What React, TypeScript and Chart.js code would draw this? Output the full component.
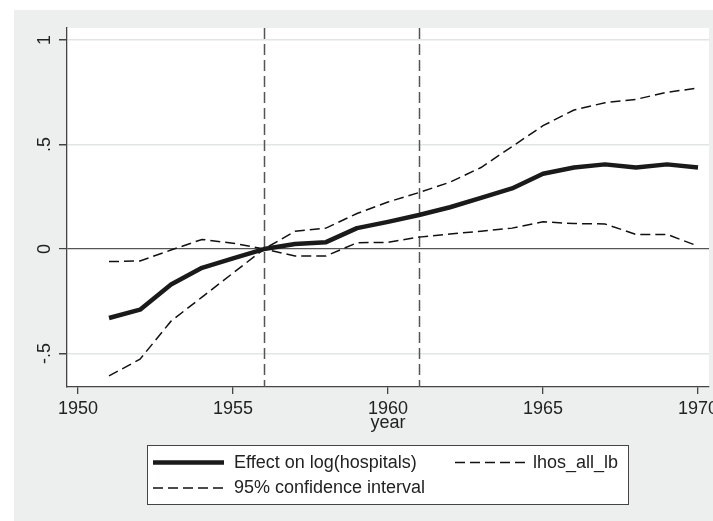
import React, { useEffect, useRef } from 'react';
import { Chart, registerables } from 'chart.js';

Chart.register(...registerables);

// ---- data ----
const years = [1951, 1952, 1953, 1954, 1955, 1956, 1957, 1958, 1959, 1960, 1961, 1962, 1963, 1964, 1965, 1966, 1967, 1968, 1969, 1970];
const effectOnLogHospitals = [-0.33, -0.29, -0.17, -0.09, -0.045, 0, 0.024, 0.033, 0.1, 0.13, 0.163, 0.2, 0.245, 0.29, 0.36, 0.39, 0.405, 0.39, 0.405, 0.39];
const lhosAllLb = [-0.607, -0.527, -0.345, -0.23, -0.115, 0, -0.033, -0.033, 0.03, 0.032, 0.057, 0.072, 0.085, 0.1, 0.13, 0.122, 0.12, 0.07, 0.07, 0.014];
const ciUpper = [-0.06, -0.057, -0.005, 0.046, 0.028, 0, 0.085, 0.1, 0.17, 0.225, 0.27, 0.32, 0.39, 0.49, 0.59, 0.665, 0.7, 0.716, 0.75, 0.77];
const xTickValues = [1950, 1955, 1960, 1965, 1970];
const yTickValues = [-0.5, 0, 0.5, 1];
const yTickLabels = ['-.5', '0', '.5', '1'];
const referenceYears = [1956, 1961];
const seriesLabels = ['Effect on log(hospitals)', 'lhos_all_lb', '95% confidence interval'];
const xAxisTitle = 'year';

const FONT_FAMILY = '"Liberation Sans", Arial, Helvetica, sans-serif';
const FONT_SIZE = 18;
const TEXT_COLOR = '#222';
const AXIS_COLOR = '#444';
const BG_GRAY = '#EDEFEF';
const GRID_GRAY = '#E2E5E5';

const backgroundPlugin = {
  id: 'stataBackground',
  beforeDraw(chart: any) {
    const { ctx, width, height, chartArea: a } = chart;
    ctx.save();
    ctx.fillStyle = '#ffffff';
    ctx.fillRect(0, 0, width, height);
    ctx.fillStyle = BG_GRAY;
    ctx.fillRect(14, 10, width - 14, height - 10);
    ctx.fillStyle = '#ffffff';
    ctx.fillRect(a.left, a.top, a.right - a.left, a.bottom - a.top);
    ctx.restore();
  },
};

const referenceLinePlugin = {
  id: 'referenceLines',
  beforeDatasetsDraw(chart: any) {
    const { ctx, chartArea: a } = chart;
    const xs = chart.scales.x;
    ctx.save();
    ctx.strokeStyle = '#555';
    ctx.lineWidth = 1.5;
    ctx.setLineDash([11, 5]);
    referenceYears.forEach((yr) => {
      const px = Math.round(xs.getPixelForValue(yr)) + 0.5;
      ctx.beginPath();
      ctx.moveTo(px, a.top);
      ctx.lineTo(px, a.bottom);
      ctx.stroke();
    });
    ctx.restore();
  },
};

const legendPlugin = {
  id: 'stataLegend',
  afterDraw(chart: any) {
    const { ctx } = chart;
    const boxL = 147.5, boxT = 445.5, boxW = 481, boxH = 59;
    ctx.save();
    ctx.fillStyle = '#ffffff';
    ctx.fillRect(boxL, boxT, boxW, boxH);
    ctx.strokeStyle = AXIS_COLOR;
    ctx.lineWidth = 1;
    ctx.setLineDash([]);
    ctx.strokeRect(boxL, boxT, boxW, boxH);

    const slots = [
      { x: 153, y: 462.5, tx: 234 },
      { x: 455, y: 462.5, tx: 533 },
      { x: 153, y: 488, tx: 234 },
    ];
    chart.data.datasets.forEach((ds: any, i: number) => {
      const s = slots[i];
      if (!s) return;
      ctx.strokeStyle = ds.borderColor;
      ctx.lineWidth = ds.borderWidth;
      ctx.setLineDash(ds.borderDash || []);
      ctx.lineCap = 'butt';
      ctx.beginPath();
      ctx.moveTo(s.x, s.y);
      ctx.lineTo(s.x + 71, s.y);
      ctx.stroke();
      ctx.setLineDash([]);
      ctx.fillStyle = TEXT_COLOR;
      ctx.font = `${FONT_SIZE}px ${FONT_FAMILY}`;
      ctx.textAlign = 'left';
      ctx.textBaseline = 'middle';
      ctx.fillText(ds.label, s.tx, s.y + 0.5);
    });
    ctx.restore();
  },
};

export default function App() {
  const canvasRef = useRef<HTMLCanvasElement | null>(null);

  useEffect(() => {
    if (!canvasRef.current) return;
    const font = { family: FONT_FAMILY, size: FONT_SIZE };
    const chart = new Chart(canvasRef.current, {
      type: 'line',
      data: {
        datasets: [
          {
            label: seriesLabels[0],
            data: years.map((y, i) => ({ x: y, y: effectOnLogHospitals[i] })),
            borderColor: '#1a1a1a',
            borderWidth: 4.5,
            borderJoinStyle: 'round',
            pointRadius: 0,
            tension: 0,
            fill: false,
          },
          {
            label: seriesLabels[1],
            data: years.map((y, i) => ({ x: y, y: lhosAllLb[i] })),
            borderColor: '#111',
            borderWidth: 1.5,
            borderDash: [10, 5],
            pointRadius: 0,
            tension: 0,
            fill: false,
          },
          {
            label: seriesLabels[2],
            data: years.map((y, i) => ({ x: y, y: ciUpper[i] })),
            borderColor: '#111',
            borderWidth: 1.5,
            borderDash: [10, 5],
            pointRadius: 0,
            tension: 0,
            fill: false,
          },
        ],
      },
      options: {
        animation: false,
        responsive: false,
        devicePixelRatio: 1,
        layout: { padding: { left: 0, top: 28, right: 4, bottom: 87 } },
        plugins: {
          legend: { display: false },
          tooltip: { enabled: false },
        },
        scales: {
          x: {
            type: 'linear',
            position: 'bottom',
            min: 1949.645,
            max: 1970.355,
            afterBuildTicks: (scale: any) => {
              scale.ticks = xTickValues.map((v) => ({ value: v }));
            },
            afterFit: (scale: any) => {
              scale.height = 47;
              scale.paddingLeft = 0;
              scale.paddingRight = 0;
            },
            grid: {
              drawOnChartArea: false,
              drawTicks: true,
              tickLength: 7,
              tickColor: AXIS_COLOR,
              lineWidth: 1.3,
            },
            border: { display: true, color: AXIS_COLOR, width: 1.3 },
            ticks: {
              font,
              color: TEXT_COLOR,
              padding: 4.5,
              maxRotation: 0,
              minRotation: 0,
              autoSkip: false,
              callback: (v: any) => String(v),
            },
            title: {
              display: true,
              text: xAxisTitle,
              font,
              color: TEXT_COLOR,
              padding: { top: 0, bottom: 0 },
            },
          },
          y: {
            type: 'linear',
            position: 'left',
            min: -0.66,
            max: 1.0574,
            afterBuildTicks: (scale: any) => {
              scale.ticks = yTickValues.map((v) => ({ value: v }));
            },
            afterFit: (scale: any) => {
              scale.width = 67;
              scale.paddingTop = 0;
              scale.paddingBottom = 0;
            },
            grid: {
              drawTicks: true,
              tickLength: 8,
              tickColor: AXIS_COLOR,
              color: (ctx: any) => (ctx.tick && ctx.tick.value === 0 ? '#555' : GRID_GRAY),
              lineWidth: (ctx: any) => (ctx.tick && ctx.tick.value === 0 ? 1.2 : 1.5),
            },
            border: { display: true, color: AXIS_COLOR, width: 1.3 },
            ticks: {
              font,
              color: TEXT_COLOR,
              padding: 3,
              minRotation: 90,
              maxRotation: 90,
              crossAlign: 'center',
              autoSkip: false,
              callback: (v: any) => {
                const idx = yTickValues.indexOf(Number(v));
                return idx >= 0 ? yTickLabels[idx] : '';
              },
            },
          },
        },
      },
      plugins: [backgroundPlugin, referenceLinePlugin, legendPlugin],
    } as any);
    return () => chart.destroy();
  }, []);

  return (
    <div style={{ position: 'absolute', left: 0, top: 0, width: 713, height: 521 }}>
      <canvas ref={canvasRef} width={713} height={521} style={{ display: 'block', width: 713, height: 521 }} />
    </div>
  );
}
